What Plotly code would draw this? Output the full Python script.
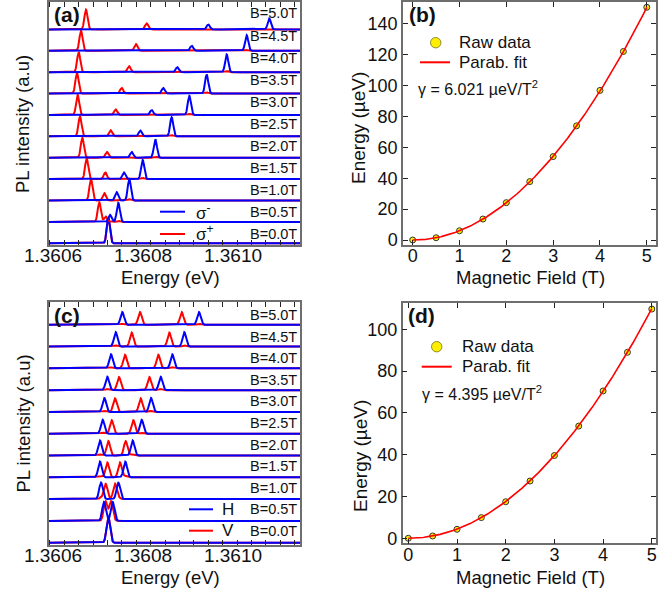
import numpy as np
import plotly.graph_objects as go

# ---------------- data ----------------
B_fields = [0.0, 0.5, 1.0, 1.5, 2.0, 2.5, 3.0, 3.5, 4.0, 4.5, 5.0]
B_labels = ["B=%.1fT" % b for b in B_fields]

# panel (a): circular polarisation peaks (energy in eV, height in row units)
a_red_big_E = [1.3607230, 1.3607029, 1.3606844, 1.3606748, 1.3606652, 1.3606600,
               1.3606548, 1.3606533, 1.3606571, 1.3606622, 1.3606733]
a_red_big_h = [1.10, 0.92, 1.01, 0.97, 0.93, 0.93, 0.93, 0.96, 0.93, 0.93, 0.92]
a_red_small_E = [1.3607230, 1.3607170, 1.3607141, 1.3607163, 1.3607200, 1.3607282,
                 1.3607393, 1.3607527, 1.3607689, 1.3607844, 1.3608082]
a_red_small_h = [0.0, 0.25, 0.34, 0.31, 0.27, 0.28, 0.26, 0.26, 0.28, 0.31, 0.28]
a_blue_small_E = [1.3607230, 1.3607267, 1.3607415, 1.3607578, 1.3607748, 1.3607941,
                  1.3608193, 1.3608451, 1.3608762, 1.3609082, 1.3609451]
a_blue_small_h = [0.0, 0.33, 0.39, 0.31, 0.27, 0.27, 0.23, 0.26, 0.23, 0.23, 0.23]
a_blue_big_E = [1.3607230, 1.3607452, 1.3607696, 1.3607993, 1.3608274, 1.3608637,
                1.3609030, 1.3609415, 1.3609860, 1.3610304, 1.3610807]
a_blue_big_h = [1.21, 0.89, 1.01, 0.89, 0.86, 0.89, 0.89, 0.89, 0.83, 0.73, 0.51]

# panel (c): linear polarisation peaks
c_blue1_E = [1.3607230, 1.3607133, 1.3607067, 1.3607044, 1.3607044, 1.3607104,
             1.3607141, 1.3607207, 1.3607289, 1.3607393, 1.3607540]
c_blue1_h = [1.16, 0.87, 0.76, 0.72, 0.69, 0.64, 0.64, 0.61, 0.64, 0.66, 0.58]
c_red1_E = [1.3607230, 1.3607170, 1.3607170, 1.3607207, 1.3607230, 1.3607304,
            1.3607378, 1.3607467, 1.3607600, 1.3607748, 1.3607933]
c_red1_h = [1.10, 0.85, 0.70, 0.68, 0.66, 0.62, 0.62, 0.60, 0.62, 0.64, 0.58]
c_red2_E = [1.3607230, 1.3607289, 1.3607378, 1.3607489, 1.3607615, 1.3607785,
            1.3607948, 1.3608141, 1.3608341, 1.3608585, 1.3608860]
c_red2_h = [0.0, 0.85, 0.70, 0.68, 0.66, 0.62, 0.62, 0.60, 0.62, 0.64, 0.58]
c_blue2_E = [1.3607230, 1.3607326, 1.3607452, 1.3607607, 1.3607770, 1.3607970,
             1.3608178, 1.3608393, 1.3608652, 1.3608918, 1.3609244]
c_blue2_h = [0.0, 0.87, 0.76, 0.72, 0.69, 0.64, 0.64, 0.61, 0.64, 0.66, 0.58]

# panels (b), (d): diamagnetic shift
b_field = [0.0, 0.5, 1.0, 1.5, 2.0, 2.5, 3.0, 3.5, 4.0, 4.5, 5.0]
b_energy = [0.0, 1.5, 6.0, 13.6, 24.2, 37.8, 54.0, 73.9, 96.8, 122.0, 150.6]
d_energy = [0.0, 1.1, 4.3, 9.9, 17.5, 27.4, 39.6, 53.7, 70.5, 89.0, 109.7]
gamma_b = 6.021
gamma_d = 4.395

# ---------------- styling ----------------
FONT = "Liberation Sans, Arial, sans-serif"
RED = "#ff0000"
BLUE = "#0000ff"
YELLOW = "#ffee00"
FRAME = "#6e6e6e"
W, H = 670, 592

xE_range = [1.36059111, 1.36114889]
E = np.linspace(xE_range[0], xE_range[1], 2000)


def peaks(pos, hts, sig):
    y = np.zeros_like(E)
    for p, h in zip(pos, hts):
        y += h * np.exp(-0.5 * ((E - p) / sig) ** 2)
    return y


def px(x0, x1, y0, y1):
    return dict(x=[x0 / W, x1 / W], y=[1 - y1 / H, 1 - y0 / H])


dom = {
    "a": px(49, 300, 2, 245),
    "b": px(403, 655.7, 2, 245),
    "c": px(49, 300, 302.3, 545),
    "d": px(402.7, 655.7, 303, 543.3),
}

fig = go.Figure()

# ---- panel (a) ----
sa = 3.5e-6
for i, b in enumerate(B_fields):
    blue = peaks([a_blue_small_E[i], a_blue_big_E[i]], [a_blue_small_h[i], a_blue_big_h[i]], sa)
    red = peaks([a_red_big_E[i], a_red_small_E[i]], [a_red_big_h[i], a_red_small_h[i]], sa) + 0.06 * blue
    fig.add_trace(go.Scatter(x=E, y=red + i, mode="lines", line=dict(color=RED, width=2),
                             xaxis="x", yaxis="y", showlegend=False, hoverinfo="skip"))
    fig.add_trace(go.Scatter(x=E, y=blue + i, mode="lines", line=dict(color=BLUE, width=2),
                             xaxis="x", yaxis="y", showlegend=False, hoverinfo="skip"))

# ---- panel (c) ----
sc = 4.0e-6
for i, b in enumerate(B_fields):
    blue = peaks([c_blue1_E[i], c_blue2_E[i]], [c_blue1_h[i], c_blue2_h[i]], sc)
    red = peaks([c_red1_E[i], c_red2_E[i]], [c_red1_h[i], c_red2_h[i]], sc) + 0.08 * blue
    fig.add_trace(go.Scatter(x=E, y=red + i, mode="lines", line=dict(color=RED, width=2),
                             xaxis="x3", yaxis="y3", showlegend=False, hoverinfo="skip"))
    fig.add_trace(go.Scatter(x=E, y=blue + i, mode="lines", line=dict(color=BLUE, width=2),
                             xaxis="x3", yaxis="y3", showlegend=False, hoverinfo="skip"))

# ---- panels (b), (d) ----
Bfine = np.linspace(0, 5, 200)
for ax, ydata, gam in [("2", b_energy, gamma_b), ("4", d_energy, gamma_d)]:
    fig.add_trace(go.Scatter(x=b_field, y=ydata, mode="markers", name="Raw data",
                             marker=dict(color=YELLOW, size=6, line=dict(color="#333333", width=1)),
                             xaxis="x" + ax, yaxis="y" + ax, showlegend=False))
    fig.add_trace(go.Scatter(x=Bfine, y=gam * Bfine ** 2, mode="lines", name="Parab. fit",
                             line=dict(color=RED, width=1.6),
                             xaxis="x" + ax, yaxis="y" + ax, showlegend=False))

# ---------------- axes ----------------
common = dict(showline=True, linecolor=FRAME, linewidth=1.5, mirror="ticks", showgrid=False,
              zeroline=False, tickcolor="#222222", automargin=False,
              tickfont=dict(family=FONT, size=18, color="#111"))

spec_x = dict(common, range=xE_range, tickvals=[1.3606, 1.3608, 1.3610],
              ticktext=["1.3606", "1.3608", "1.3610"], ticks="", ticklabelstandoff=-8,
              tickfont=dict(family=FONT, size=19, color="#111"),
              minor=dict(ticks="inside", ticklen=5, tick0=1.3605933, dtick=0.000032,
                         tickcolor="#222222", showgrid=False))
spec_y = dict(common, showticklabels=False, ticks="", mirror=True)

fig.update_layout(
    xaxis=dict(spec_x, domain=dom["a"]["x"], anchor="y"),
    yaxis=dict(spec_y, domain=dom["a"]["y"], anchor="x", range=[-0.08, 11.28]),
    xaxis3=dict(spec_x, domain=dom["c"]["x"], anchor="y3"),
    yaxis3=dict(spec_y, domain=dom["c"]["y"], anchor="x3", range=[-0.105, 11.03]),
    xaxis2=dict(common, domain=dom["b"]["x"], anchor="y2", range=[-0.207, 5.19], dtick=1,
                tick0=0, ticks="inside", ticklen=5, ticklabelstandoff=-6),
    yaxis2=dict(common, domain=dom["b"]["y"], anchor="x2", range=[-3.2, 154], dtick=20,
                tick0=0, ticks="inside", ticklen=5),
    xaxis4=dict(common, domain=dom["d"]["x"], anchor="y4", range=[-0.115, 5.08], dtick=1,
                tick0=0, ticks="inside", ticklen=5, ticklabelstandoff=-6),
    yaxis4=dict(common, domain=dom["d"]["y"], anchor="x4", range=[-2.4, 112.6], dtick=20,
                tick0=0, ticks="inside", ticklen=5),
    showlegend=False,
)

# ---------------- annotations & legend keys ----------------
ann = []
shapes = []


def text(x, y, s, size=18.5, angle=0, bold=False, xanchor="center", xref="paper", yref="paper"):
    ann.append(dict(x=x, y=y, xref=xref, yref=yref, text=("<b>%s</b>" % s) if bold else s,
                    showarrow=False, textangle=angle, xanchor=xanchor, yanchor="middle",
                    font=dict(family=FONT, size=size, color="#111")))


def key_line(x0, x1, y, color, width=2):
    shapes.append(dict(type="line", xref="paper", yref="paper", x0=x0 / W, x1=x1 / W,
                       y0=1 - y / H, y1=1 - y / H, line=dict(color=color, width=width)))


def key_dot(cx, cy, r):
    shapes.append(dict(type="circle", xref="paper", yref="paper", x0=(cx - r) / W, x1=(cx + r) / W,
                       y0=1 - (cy + r) / H, y1=1 - (cy - r) / H, fillcolor=YELLOW,
                       line=dict(color="#8a8a2a", width=1)))


# B labels
for i, lab in enumerate(B_labels):
    text(0.996, 0.435 + 1.031 * i, lab, size=14.5, xanchor="right", xref="x domain", yref="y")
    text(0.996, 0.55 + 0.989 * i, lab, size=14.5, xanchor="right", xref="x3 domain", yref="y3")

# legends of the spectra panels
key_line(160, 185, 211.7, BLUE)
text(194 / W, 1 - 211.7 / H, "σ<sup>-</sup>", size=17, xanchor="left")
key_line(160, 185, 234, RED)
text(194 / W, 1 - 233 / H, "σ<sup>+</sup>", size=17, xanchor="left")
key_line(189, 213, 509.3, BLUE)
text(220 / W, 1 - 509.3 / H, "H", size=17, xanchor="left")
key_line(189, 213, 530.7, RED)
text(220 / W, 1 - 530.7 / H, "V", size=17, xanchor="left")

# legends of the fit panels
key_dot(435.7, 42.7, 5.2)
text(457 / W, 1 - 42.7 / H, "Raw data", size=17, xanchor="left")
key_line(420, 450, 62.3, RED)
text(457 / W, 1 - 62.3 / H, "Parab. fit", size=17, xanchor="left")
key_dot(436.7, 346.7, 5.2)
text(460 / W, 1 - 346.7 / H, "Raw data", size=17, xanchor="left")
key_line(421.7, 451.7, 366.7, RED)
text(460 / W, 1 - 366.7 / H, "Parab. fit", size=17, xanchor="left")

# panel letters
text(52 / W, 1 - 15 / H, "(a)", size=21, bold=True, xanchor="left")
text(407 / W, 1 - 15 / H, "(b)", size=21, bold=True, xanchor="left")
text(52 / W, 1 - 315 / H, "(c)", size=21, bold=True, xanchor="left")
text(406 / W, 1 - 315 / H, "(d)", size=21, bold=True, xanchor="left")

# axis titles
text(170 / W, 1 - 278 / H, "Energy (eV)")
text(170 / W, 1 - 577 / H, "Energy (eV)")
text(23 / W, 1 - 124 / H, "PL intensity (a.u)", angle=-90)
text(23 / W, 1 - 423.5 / H, "PL intensity (a.u)", angle=-90)
text(530 / W, 1 - 277 / H, "Magnetic Field (T)")
text(530 / W, 1 - 577 / H, "Magnetic Field (T)")
text(358 / W, 1 - 128 / H, "Energy (µeV)", size=19, angle=-90)
text(360 / W, 1 - 456 / H, "Energy (µeV)", size=19, angle=-90)

# gamma text
text(416 / W, 1 - 88 / H, "γ = %.3f µeV/T<sup>2</sup>" % gamma_b, size=16, xanchor="left")
text(420 / W, 1 - 393 / H, "γ = %.3f µeV/T<sup>2</sup>" % gamma_d, size=16, xanchor="left")

fig.update_layout(annotations=ann, shapes=shapes, width=W, height=H,
                  margin=dict(l=0, r=0, t=0, b=0, autoexpand=False),
                  paper_bgcolor="white", plot_bgcolor="white",
                  font=dict(family=FONT, color="#111"))

fig.write_html("out.html")
